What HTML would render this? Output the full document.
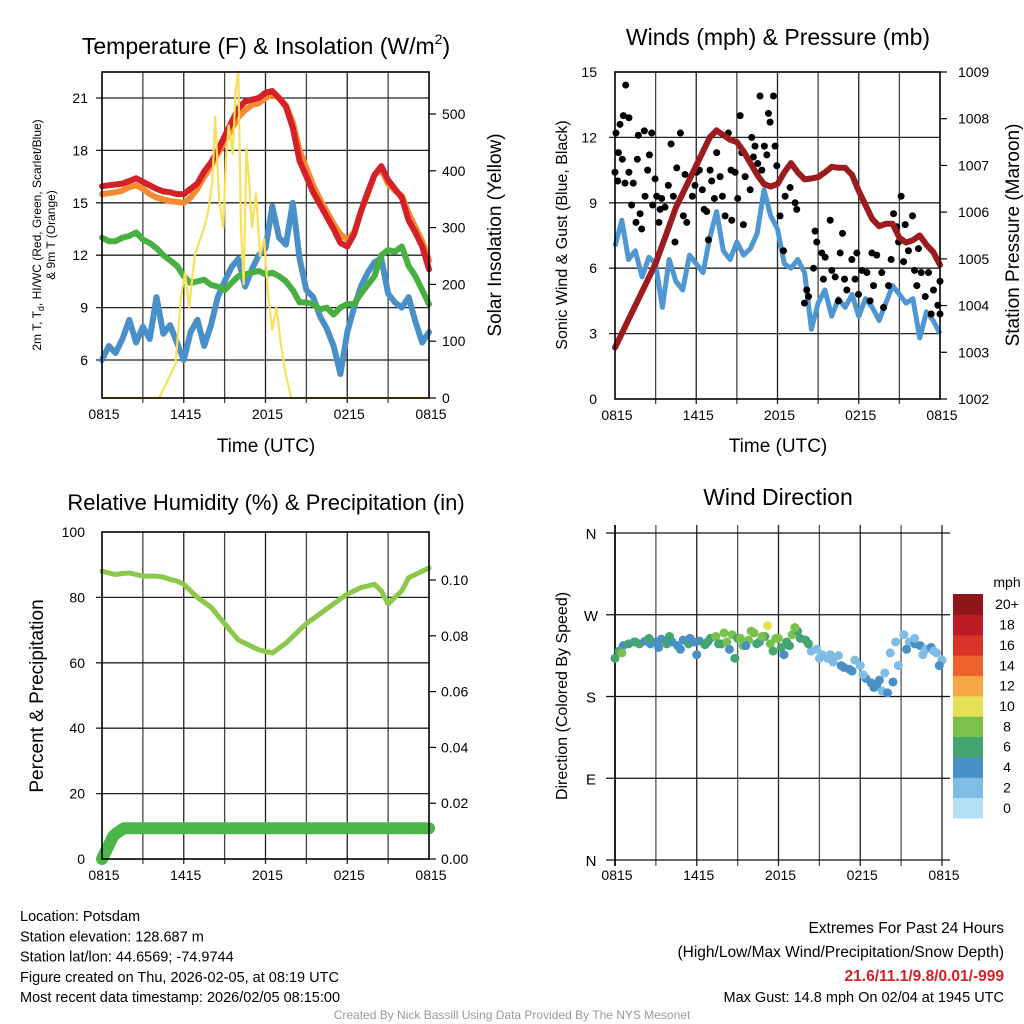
<!DOCTYPE html>
<html><head><meta charset="utf-8">
<style>
html,body{margin:0;padding:0;background:#fff;}
svg{display:block;font-family:"Liberation Sans",Arial,sans-serif;}
</style></head>
<body>
<svg id="chart" width="1024" height="1024" viewBox="0 0 1024 1024" xmlns="http://www.w3.org/2000/svg"></svg>
<script>
// ---------- DATA ----------
const hours = [];
for (let i = 0; i <= 48; i++) hours.push(i * 0.5);
const xTickLabels = ["0815","1415","2015","0215","0815"];

const tempRed = [15.95,16.0,16.05,16.1,16.25,16.4,16.2,16.0,15.8,15.65,15.6,15.5,15.5,15.8,16.1,16.8,17.3,18.0,18.8,19.6,20.4,20.8,20.9,21.0,21.3,21.4,21.0,20.5,19.3,17.4,16.5,15.6,14.9,14.2,13.5,12.7,12.5,13.2,14.5,15.6,16.6,17.1,16.3,15.8,15.3,14.0,13.3,12.5,11.2];
const temp9mOrange = [15.5,15.55,15.6,15.7,15.9,16.0,15.8,15.5,15.3,15.2,15.1,15.05,15.0,15.3,15.8,16.5,17.1,17.8,18.5,19.2,19.9,20.3,20.6,20.7,21.0,21.2,21.0,20.6,19.6,18.0,17.0,16.0,15.2,14.5,13.8,13.2,12.9,13.3,14.5,15.5,16.6,16.9,16.1,15.7,15.4,14.4,13.6,12.8,11.7];
const dewGreen = [13.0,12.8,12.8,13.0,13.1,13.3,12.9,12.7,12.4,12.0,11.7,11.4,10.8,10.4,10.5,10.6,10.3,10.2,10.0,10.4,10.8,10.9,11.0,11.1,10.9,11.0,10.8,10.5,10.0,9.3,9.3,9.2,8.9,9.0,8.6,9.0,9.2,9.2,9.8,10.3,10.8,12.0,12.3,12.2,12.5,11.4,10.8,10.0,9.2];
const wcBlue = [6.0,6.8,6.4,7.2,8.3,7.0,7.9,7.2,9.6,7.5,8.0,7.0,6.0,7.6,8.3,6.8,8.0,9.6,10.5,11.3,11.8,10.2,11.2,12.0,12.4,14.8,13.0,12.6,15.0,11.8,10.0,9.6,8.5,7.8,6.8,5.2,7.6,9.0,10.2,11.0,11.6,11.8,9.8,9.3,9.0,9.6,8.2,7.0,7.6];
const solarHours = [0,4.2,4.6,5.0,5.4,5.8,6.1,6.4,6.8,7.2,7.5,7.8,8.1,8.3,8.6,8.9,9.1,9.3,9.6,9.8,10.0,10.2,10.4,10.6,10.8,11.0,11.3,11.6,11.9,12.2,12.5,12.8,13.1,13.5,13.9,24];
const solarValues = [0,0,20,40,60,180,220,160,250,280,300,330,380,495,350,300,420,480,430,540,575,300,200,440,380,300,360,250,280,180,120,160,100,40,0,0];

const windSpeed = [7.0,8.2,6.4,6.8,5.6,6.5,6.2,4.2,6.4,5.4,5.0,6.6,6.2,5.8,7.4,8.6,6.8,6.4,7.2,6.6,6.9,7.6,9.6,8.4,7.8,6.2,6.0,6.4,5.8,3.2,4.4,5.0,3.8,4.6,4.2,4.8,3.8,4.6,4.2,3.6,4.4,5.2,4.8,4.4,4.6,2.8,4.0,3.6,3.0];
const pressure = [1003.1,1003.4,1003.7,1004.0,1004.3,1004.6,1004.9,1005.3,1005.7,1006.1,1006.4,1006.7,1007.0,1007.3,1007.6,1007.75,1007.65,1007.55,1007.5,1007.3,1007.05,1006.8,1006.6,1006.55,1006.6,1006.85,1007.05,1006.85,1006.7,1006.72,1006.75,1006.85,1006.97,1006.95,1006.95,1006.8,1006.45,1006.15,1005.85,1005.7,1005.75,1005.75,1005.45,1005.35,1005.4,1005.5,1005.3,1005.15,1004.87];
const gustHours = [0.0,0.07,0.37,0.62,0.79,1.03,0.25,0.54,0.2,0.74,1.03,1.23,1.35,1.55,1.65,1.72,1.85,1.97,2.17,2.22,2.41,2.54,2.71,2.78,2.96,3.08,3.25,3.33,3.45,3.69,3.94,4.14,4.31,4.43,4.56,4.83,5.05,5.17,5.3,5.71,5.91,6.03,6.23,6.45,6.58,6.77,6.9,7.02,7.14,7.34,7.51,7.76,7.93,8.13,8.37,8.57,8.62,8.87,9.06,9.24,9.36,9.48,9.61,9.98,10.1,10.22,10.34,10.54,10.71,10.84,11.03,11.21,11.33,11.45,11.7,11.82,11.95,12.19,12.44,12.56,12.93,13.3,13.42,13.99,14.16,14.29,14.66,14.78,14.9,15.27,15.39,15.52,15.89,16.01,16.26,16.5,16.63,16.8,16.95,17.12,17.49,17.73,17.86,17.98,18.23,18.6,18.84,18.97,19.09,19.33,19.7,19.83,20.2,20.39,20.57,20.81,20.94,21.13,21.31,21.43,21.67,21.97,22.12,22.29,22.41,22.61,22.91,23.15,23.35,23.52,23.84,24.0,24.0];
const gustValues = [10.4,12.2,12.6,13.0,14.4,12.9,11.3,11.0,10.0,9.9,10.4,8.9,9.9,8.1,11.0,12.1,8.5,7.8,12.3,9.3,10.5,11.2,12.2,8.9,10.1,9.3,8.1,8.7,9.2,8.8,9.8,11.7,9.3,7.2,10.6,12.2,8.4,10.3,8.1,9.3,9.8,10.4,10.5,9.6,8.7,8.6,7.3,10.5,10.0,9.2,11.3,10.2,9.3,8.4,12.2,10.5,8.2,10.4,9.2,13.0,11.3,8.0,10.2,9.6,12.0,11.1,11.6,10.8,13.9,10.5,11.6,11.2,13.1,12.7,13.9,11.6,10.7,8.4,6.8,9.3,9.7,9.0,8.7,4.4,5.0,4.7,6.0,7.7,7.2,6.7,5.5,6.5,8.2,5.9,5.6,4.5,6.7,7.6,5.5,5.0,6.4,5.5,6.7,4.8,5.9,5.8,4.5,6.7,5.2,6.6,5.8,4.2,5.2,6.4,8.5,7.9,7.2,9.3,6.3,8.0,6.8,8.4,5.9,5.2,6.9,5.8,4.7,5.8,3.9,5.0,4.3,3.9,5.4];

const rhValues = [88,87.5,87,87.3,87.5,87,86.5,86.5,86.5,86.2,85.5,85,84,82,80,78.5,77,74.5,72,69.5,67,66,65,64,63.5,63,64.5,66,68,70,72,73.5,75,76.5,78,79.5,81,82,83,83.5,84,82,78,80,82,86,87,88,89];
const precipHours = [0,0.2,0.4,0.6,0.8,1.0,1.3,1.6,24];
const precipValues = [0.0,0.002,0.004,0.006,0.008,0.009,0.010,0.011,0.011];

const dirHours = [0,0.3,0.6,1,1.4,1.8,2.2,2.6,3,3.4,3.8,4.2,4.6,5,5.4,5.8,6.2,6.6,7,7.4,7.8,8.2,8.6,9,9.4,9.8,10.2,10.6,11,11.4,11.8,12.2,12.6,13,13.4,14,14.4,14.8,15.2,15.6,16,16.4,16.8,17.2,17.6,18,18.4,18.8,19.2,19.6,20,20.4,20.8,21.2,21.6,22,22.4,22.8,23.2,23.6,24,
  0.5,1.5,2.5,3.2,4.0,4.8,5.5,6.0,6.8,7.6,8.0,8.4,8.8,9.2,9.6,10.0,10.4,10.8,11.2,11.6,12.0,12.4,12.8,13.2,13.6,14.2,15.0,15.8,16.6,17.4,18.2,19.0,19.4,19.8,20.2,20.6,21.4,22.0,22.6,23.4,23.8];
const dirValues = [222,230,236,238,240,238,241,238,240,243,238,240,236,242,238,240,241,237,244,246,238,240,248,244,236,242,250,240,246,238,244,234,240,248,252,242,230,232,226,222,218,225,212,210,220,214,200,195,192,186,184,196,214,248,240,238,236,232,234,228,220,
  228,240,244,234,246,232,244,226,240,238,250,232,222,244,236,252,238,246,258,230,244,226,236,256,244,238,222,226,214,208,204,190,198,206,228,240,232,244,226,230,214];
const dirSpeed = [7,6,5,6,4,6,5,4,4,5,6,4,5,4,6,5,5,6,7,8,6,8,9,7,8,8,9,5,6,8,8,6,7,8,7,6,3,2,3,2,2,3,4,4,3,3,4,4,4,3,5,4,2,2,3,4,4,3,4,3,3,
  8,6,7,4,6,4,5,4,6,6,9,5,6,8,5,8,7,8,10,6,8,5,7,8,6,7,3,3,4,4,3,4,4,3,3,2,4,3,3,2,4];
const speedLabels = ["0","2","4","6","8","10","12","14","16","18","20+"];
const speedColors = ["#b3e2f7","#7fbce6","#4a8fc6","#45a570","#79c14a","#e6e055","#f5a845","#ef622c","#d9332a","#bb1c25","#8f1519"];

// ---------- HELPERS ----------
const NS = "http://www.w3.org/2000/svg";
const svg = document.getElementById("chart");
function mk(tag, attrs, parent) {
  const e = document.createElementNS(NS, tag);
  for (const k in attrs) e.setAttribute(k, attrs[k]);
  (parent || svg).appendChild(e);
  return e;
}
function lin(d0, d1, r0, r1) { return v => r0 + (v - d0) * (r1 - r0) / (d1 - d0); }
function txt(x, y, s, size, anchor, extra) {
  const t = mk("text", Object.assign({x: x, y: y, "font-size": size, "text-anchor": anchor || "middle", fill: "#000"}, extra || {}));
  t.textContent = s;
  return t;
}
function pathFrom(xs, ys, xf, yf) {
  let d = "";
  for (let i = 0; i < xs.length; i++) d += (i ? "L" : "M") + xf(xs[i]).toFixed(1) + " " + yf(ys[i]).toFixed(1);
  return d;
}
function frame(x0, x1, y0, y1, hVals, yf, name) {
  const g = mk("g", {});
  
  
  for (let i = 1; i < 8; i++) {
    const x = x0 + (x1 - x0) * i / 8;
    mk("line", {x1: x, x2: x, y1: y0, y2: y1 + 5, stroke: i % 2 ? "#444" : "#222", "stroke-width": 1.3}, g);
  }
  hVals.forEach(v => { const y = yf(v); mk("line", {x1: x0 - 6, x2: x1, y1: y, y2: y, stroke: "#222", "stroke-width": 1.3}, g); });
  return g;
}
function box(x0, x1, y0, y1, name) {
  const r = mk("rect", {x: x0, y: y0, width: x1 - x0, height: y1 - y0, fill: "none", stroke: "#000", "stroke-width": 1.6});
  
  
}
function xTicks(x0, x1, y1, name) {
  for (let i = 0; i < 5; i++) {
    const x = x0 + (x1 - x0) * i / 4;
    const t = txt(x + 2, y1 + 21, xTickLabels[i], 14);
    
    
  }
}

// ---------- PANEL 1 ----------
{
  const X0 = 102, X1 = 429, Y0 = 72, Y1 = 398;
  const xs = lin(0, 24, X0, X1), ys = lin(6, 21, 360, 98), yr = lin(0, 500, 398, 114);
  frame(X0, X1, Y0, Y1, [6, 9, 12, 15, 18, 21], ys, "temp-panel");
  [6, 9, 12, 15, 18, 21].forEach(v => {
    const t = txt(88, ys(v) + 5, String(v), 14, "end");
    
    
  });
  [0, 100, 200, 300, 400, 500].forEach(v => {
    const t = txt(442, yr(v) + 5, String(v), 14, "start");
    
    
    mk("line", {x1: X1, x2: X1 + 7, y1: yr(v), y2: yr(v), stroke: "#000", "stroke-width": 1.2});
  });
  const series = [[wcBlue, "#4a90c8", "heat-index-windchill-line"], [dewGreen, "#48b040", "dewpoint-line"], [temp9mOrange, "#f58a30", "temp-9m-line"], [tempRed, "#d42027", "temp-2m-line"]];
  series.forEach(s => {
    const p = mk("path", {d: pathFrom(hours, s[0], xs, ys), fill: "none", stroke: s[1], "stroke-width": 6, "stroke-linejoin": "round", "stroke-linecap": "round"});
    
    
  });
  const sp = mk("path", {d: pathFrom(solarHours, solarValues, xs, yr), fill: "none", stroke: "#f8e05a", "stroke-width": 2.2, "stroke-linejoin": "round"});
  
  
  box(X0, X1, Y0, Y1, "temp-panel");
  xTicks(X0, X1, Y1, "temp-panel");
  let t = mk("text", {x: 266, y: 54, "font-size": 23, "text-anchor": "middle"});
  t.innerHTML = 'Temperature (F) &amp; Insolation (W/m<tspan font-size="14" dy="-10">2</tspan><tspan dy="10">)</tspan>';
  
  
  t = txt(266, 458, "Time (UTC)", 19);
  t.setAttribute('y', 452);
  
  
  t = mk("text", {x: 0, y: 0, "font-size": 12, "text-anchor": "middle", transform: "translate(41,235) rotate(-90)"});
  t.innerHTML = '2m T, T<tspan font-size="9" dy="3">d</tspan><tspan dy="-3">, HI/WC (Red, Green, Scarlet/Blue)</tspan>';
  
  
  t = txt(0, 0, "& 9m T (Orange)", 12, "middle", {transform: "translate(55,235) rotate(-90)"});
  
  
  t = txt(0, 0, "Solar Insolation (Yellow)", 19, "middle", {transform: "translate(501,235) rotate(-90)"});
  
  
}

// ---------- PANEL 2 ----------
{
  const X0 = 615, X1 = 940, Y0 = 72, Y1 = 399;
  const xs = lin(0, 24, X0, X1), ys = lin(0, 15, 399, 72), yr = lin(1002, 1009, 399, 72);
  frame(X0, X1, Y0, Y1, [3, 6, 9, 12], ys, "wind-panel");
  [0, 3, 6, 9, 12, 15].forEach(v => {
    const t = txt(597, ys(v) + 5, String(v), 14, "end");
    
    
  });
  [1002, 1003, 1004, 1005, 1006, 1007, 1008, 1009].forEach(v => {
    const t = txt(958, yr(v) + 5, String(v), 14, "start");
    
    
    mk("line", {x1: X1, x2: X1 + 7, y1: yr(v), y2: yr(v), stroke: "#000", "stroke-width": 1.2});
  });
  const wp = mk("path", {d: pathFrom(hours, windSpeed, xs, ys), fill: "none", stroke: "#4f97d2", "stroke-width": 5, "stroke-linejoin": "round"});
  
  
  const gg = mk("g", {});
  
  
  for (let i = 0; i < gustHours.length; i++) {
    const c = mk("circle", {cx: xs(gustHours[i]), cy: ys(gustValues[i]), r: 3.5, fill: "#000"}, gg);
    
    
  }
  const pp = mk("path", {d: pathFrom(hours, pressure, xs, yr), fill: "none", stroke: "#9b1b1e", "stroke-width": 6, "stroke-linejoin": "round", "stroke-linecap": "round"});
  
  
  box(X0, X1, Y0, Y1, "wind-panel");
  xTicks(X0, X1, Y1, "wind-panel");
  let t = txt(778, 45, "Winds (mph) & Pressure (mb)", 23);
  
  
  t = txt(778, 452, "Time (UTC)", 19);
  
  
  t = txt(0, 0, "Sonic Wind & Gust (Blue, Black)", 16, "middle", {transform: "translate(567,235) rotate(-90)"});
  
  
  t = txt(0, 0, "Station Pressure (Maroon)", 19, "middle", {transform: "translate(1019,235) rotate(-90)"});
  
  
}

// ---------- PANEL 3 ----------
{
  const X0 = 102, X1 = 429, Y0 = 532, Y1 = 859;
  const xs = lin(0, 24, X0, X1), ys = lin(0, 100, 859, 532), yr = lin(0, 0.10, 859, 580);
  frame(X0, X1, Y0, Y1, [20, 40, 60, 80], ys, "rh-panel");
  [0, 20, 40, 60, 80, 100].forEach(v => {
    const t = txt(85, ys(v) + 5, String(v), 14, "end");
    
    
  });
  [0, 0.02, 0.04, 0.06, 0.08, 0.10].forEach(v => {
    const t = txt(441, yr(v) + 5, v.toFixed(2), 14, "start");
    
    
    mk("line", {x1: X1, x2: X1 + 7, y1: yr(v), y2: yr(v), stroke: "#000", "stroke-width": 1.2});
  });
  const rp = mk("path", {d: pathFrom(hours, rhValues, xs, ys), fill: "none", stroke: "#8cc84b", "stroke-width": 5, "stroke-linejoin": "round", "stroke-linecap": "round"});
  
  
  const pr = mk("path", {d: pathFrom(precipHours, precipValues, xs, yr), fill: "none", stroke: "#4bb548", "stroke-width": 12, "stroke-linejoin": "round", "stroke-linecap": "round"});
  
  
  box(X0, X1, Y0, Y1, "rh-panel");
  xTicks(X0, X1, Y1, "rh-panel");
  let t = txt(266, 510, "Relative Humidity (%) & Precipitation (in)", 22);
  
  
  t = txt(0, 0, "Percent & Precipitation", 19, "middle", {transform: "translate(43,696) rotate(-90)"});
  
  
}

// ---------- PANEL 4 ----------
{
  const X0 = 615, X1 = 942, Y0 = 533, Y1 = 860;
  const xs = lin(0, 24, X0, X1), ys = lin(0, 360, 860, 533);
  const g = mk("g", {});
  
  
  for (let i = 0; i <= 8; i++) {
    const x = X0 + (X1 - X0) * i / 8;
    mk("line", {x1: x, x2: x, y1: Y0 - 8, y2: Y1 + 6, stroke: i % 2 ? "#555" : "#222", "stroke-width": i === 0 ? 2 : 1.3}, g);
  }
  const dirLabels = ["N", "E", "S", "W", "N"];
  [0, 90, 180, 270, 360].forEach((v, i) => {
    mk("line", {x1: X0 - 9, x2: X1 + 8, y1: ys(v), y2: ys(v), stroke: "#111", "stroke-width": 1.3}, g);
    const t = txt(591, ys(v) + 6, dirLabels[i], 15);
    
    
  });
  const dg = mk("g", {});
  
  
  for (let i = 0; i < dirHours.length; i++) {
    const ci = Math.min(10, Math.floor(dirSpeed[i] / 2));
    const c = mk("circle", {cx: xs(dirHours[i]), cy: ys(dirValues[i]), r: 4.5, fill: speedColors[ci]}, dg);
    
    
  }
  xTicks(X0, X1, Y1 - 1, "direction-panel");
  let t = txt(778, 505, "Wind Direction", 23);
  
  
  t = txt(0, 0, "Direction (Colored By Speed)", 16, "middle", {transform: "translate(567,696) rotate(-90)"});
  
  
  // colorbar
  const cb = mk("g", {});
  
  
  const bh = (818 - 594) / 11;
  for (let i = 0; i < 11; i++) {
    const y = 818 - (i + 1) * bh;
    const r = mk("rect", {x: 953, y: y, width: 30, height: bh + 0.5, fill: speedColors[i]}, cb);
    
    
    const l = txt(1007, y + bh / 2 + 5, speedLabels[i], 14);
    
    
  }
  t = txt(1007, 587, "mph", 14);
  
  
}

// ---------- FOOTER ----------
{
  const left = ["Location: Potsdam", "Station elevation: 128.687 m", "Station lat/lon: 44.6569; -74.9744", "Figure created on Thu, 2026-02-05, at 08:19 UTC", "Most recent data timestamp: 2026/02/05 08:15:00"];
  left.forEach((s, i) => {
    const t = txt(20, 921 + i * 20.3, s, 14.5, "start");
    
    
  });
  let t = txt(1004, 933, "Extremes For Past 24 Hours", 15.5, "end");
  
  
  t = txt(1004, 957, "(High/Low/Max Wind/Precipitation/Snow Depth)", 15.5, "end");
  
  
  t = txt(1004, 981, "21.6/11.1/9.8/0.01/-999", 15.5, "end", {fill: "#d42027", "font-weight": "bold"});
  
  
  t = txt(1004, 1002, "Max Gust: 14.8 mph On 02/04 at 1945 UTC", 14.5, "end");
  
  
  t = txt(512, 1019, "Created By Nick Bassill Using Data Provided By The NYS Mesonet", 12, "middle", {fill: "#999"});
  
  
}
</script>
</body></html>
